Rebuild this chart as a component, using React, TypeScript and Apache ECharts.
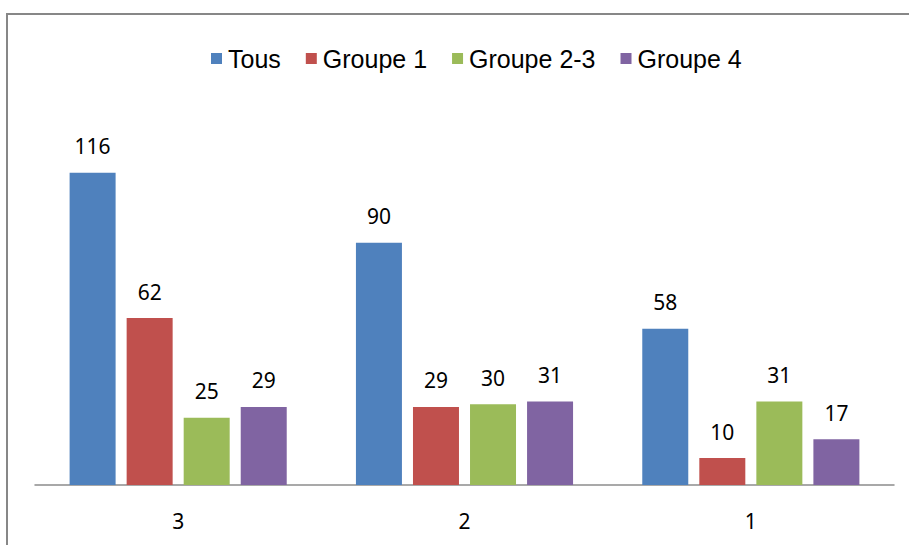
import React, { useEffect, useRef } from "react";
import * as echarts from "echarts";

const categories = ["3", "2", "1"];
const seriesNames = ["Tous", "Groupe 1", "Groupe 2-3", "Groupe 4"];
const tous = [116, 90, 58];
const groupe1 = [62, 29, 10];
const groupe23 = [25, 30, 31];
const groupe4 = [29, 31, 17];
const colors = ["#4F81BD", "#C0504D", "#9BBB59", "#8064A2"];

export default function App() {
  const ref = useRef<HTMLDivElement>(null);
  useEffect(() => {
    if (!ref.current) return;
    const chart = echarts.init(ref.current, null, { renderer: "svg" });
    const data = [tous, groupe1, groupe23, groupe4];
    chart.setOption({
      animation: false,
      backgroundColor: "#ffffff",
      color: colors,
      graphic: [
        {
          type: "rect",
          shape: { x: 7, y: 14, width: 1000, height: 1000 },
          style: { fill: "none", stroke: "#878787", lineWidth: 2 },
          silent: true,
        },
      ],
      legend: {
        top: 41,
        left: 206,
        itemWidth: 11,
        itemHeight: 11,
        itemGap: 25,
        icon: "rect",
        textStyle: {
          fontFamily: "Liberation Sans",
          fontSize: 25,
          color: "#000",
          padding: [0, 0, 0, 1],
        },
        data: seriesNames,
      },
      grid: { left: 35, right: 15, top: 108, bottom: 60, containLabel: false },
      xAxis: {
        type: "category",
        data: categories,
        axisLine: { show: true, lineStyle: { color: "#8c8c8c", width: 1.5 } },
        axisTick: { show: false },
        axisLabel: {
          margin: 25,
          fontFamily: "Noto Sans",
          fontSize: 21,
          color: "#000",
        },
      },
      yAxis: {
        type: "value",
        min: 0,
        max: 140,
        show: false,
        splitLine: { show: false },
      },
      series: data.map((d, i) => ({
        name: seriesNames[i],
        type: "bar",
        data: d,
        barWidth: 46,
        barGap: "24%",
        barCategoryGap: "24%",
        itemStyle: { color: colors[i] },
        label: {
          show: true,
          position: "top",
          distance: 16,
          fontFamily: "Noto Sans",
          fontSize: 21,
          color: "#000",
        },
      })),
    });
    return () => chart.dispose();
  }, []);
  return (
    <div
      ref={ref}
      style={{ position: "fixed", left: 0, top: 0, width: 909, height: 545 }}
    />
  );
}
